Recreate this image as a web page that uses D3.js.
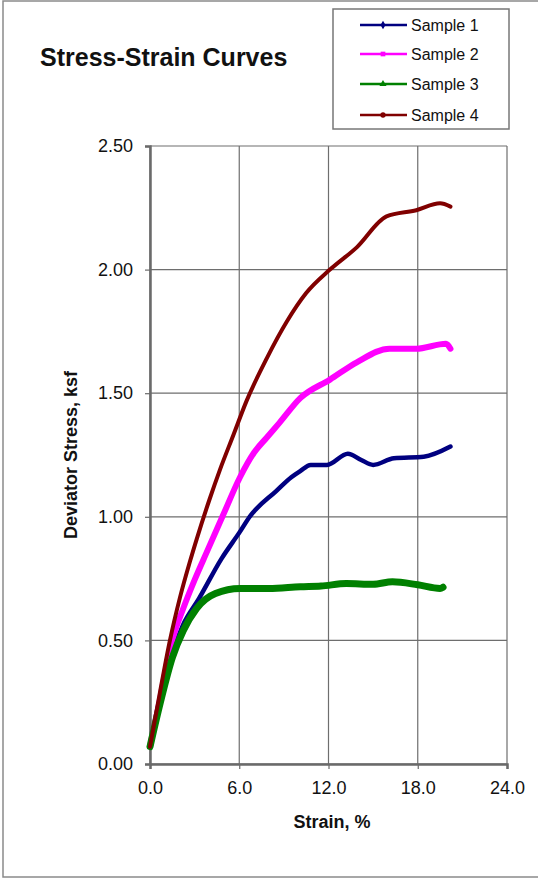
<!DOCTYPE html>
<html>
<head>
<meta charset="utf-8">
<script src="https://cdn.jsdelivr.net/npm/d3@7"></script>
<style>
  html, body { margin: 0; padding: 0; background: #fff; }
  svg { display: block; font-family: "Liberation Sans", Arial, sans-serif; }
</style>
</head>
<body>
<svg id="chart" width="538" height="882"></svg>
<script>
// values (strain %, deviator stress ksf)
const seriesNames = ["Sample 1", "Sample 2", "Sample 3", "Sample 4"];
const seriesColors = ["#000080", "#ff00ff", "#008000", "#800000"];

const strain1 = [0, 0.7, 1.5, 2.2, 3.3, 4.8, 6.05, 6.7, 8.5, 9.5, 10.1, 10.8, 11.9, 13.3, 14.2, 15.0, 16.4, 18.4, 20.2];
const stress1 = [0.07, 0.26, 0.45, 0.56, 0.67, 0.83, 0.94, 1.0, 1.105, 1.16, 1.185, 1.21, 1.21, 1.255, 1.23, 1.21, 1.237, 1.243, 1.284];

const strain2 = [0, 0.7, 1.4, 2.24, 3.0, 3.8, 4.9, 6.05, 7.0, 7.84, 8.7, 10.1, 12.1, 13.9, 16.1, 17.9, 19.9, 20.2];
const stress2 = [0.07, 0.27, 0.48, 0.63, 0.745, 0.855, 1.005, 1.16, 1.26, 1.32, 1.38, 1.48, 1.555, 1.625, 1.68, 1.68, 1.70, 1.68];

const strain3 = [0, 0.7, 1.5, 2.24, 3.14, 4.4, 6.05, 8.0, 10.1, 11.5, 13.2, 15.0, 16.3, 18.0, 19.5, 19.7];
const stress3 = [0.07, 0.25, 0.43, 0.54, 0.63, 0.69, 0.71, 0.71, 0.717, 0.72, 0.73, 0.727, 0.737, 0.725, 0.71, 0.715];

const strain4 = [0, 0.67, 1.34, 2.0, 2.69, 3.14, 4.0, 4.7, 5.6, 6.5, 7.84, 9.2, 10.5, 12.1, 13.9, 15.9, 17.9, 19.5, 20.2];
const stress4 = [0.07, 0.29, 0.50, 0.67, 0.82, 0.91, 1.07, 1.19, 1.33, 1.47, 1.64, 1.79, 1.905, 2.0, 2.09, 2.215, 2.24, 2.268, 2.255];

const xTicks = [0, 6, 12, 18, 24];
const yTicks = [0, 0.5, 1.0, 1.5, 2.0, 2.5];

const svg = d3.select("#chart");

// outer frame
svg.append("rect")
  .attr("x", 3).attr("y", 1).attr("width", 560).attr("height", 876)
  .attr("fill", "none").attr("stroke", "#8a8a8a").attr("stroke-width", 1.5);

const x = d3.scaleLinear().domain([0, 24]).range([150, 507]);
const y = d3.scaleLinear().domain([0, 2.5]).range([764, 146]);

// gridlines
const grid = svg.append("g");
grid.selectAll(".gx").data(xTicks).join("line")
  .attr("x1", d => x(d)).attr("x2", d => x(d))
  .attr("y1", y(2.5)).attr("y2", y(0))
  .attr("stroke", "#6e6e6e").attr("stroke-width", 1.2);
grid.selectAll(".gy").data(yTicks).join("line")
  .attr("x1", x(0)).attr("x2", x(24))
  .attr("y1", d => y(d)).attr("y2", d => y(d))
  .attr("stroke", "#6e6e6e").attr("stroke-width", 1.2);

// axes
const xAxis = svg.append("g").attr("transform", `translate(0,${y(0)})`)
  .call(d3.axisBottom(x).tickValues(xTicks).tickFormat(d3.format(".1f")).tickSizeOuter(0).tickSize(5).tickPadding(12));
const yAxis = svg.append("g").attr("transform", `translate(${x(0)},0)`)
  .call(d3.axisLeft(y).tickValues(yTicks).tickFormat(d3.format(".2f")).tickSizeOuter(0).tickSize(5).tickPadding(12));

[xAxis, yAxis].forEach(a => {
  a.select(".domain").attr("stroke", "#6a6a6a").attr("stroke-width", 2.5);
  a.selectAll(".tick line").attr("stroke", "#6a6a6a").attr("stroke-width", 1.2);
  a.selectAll(".tick text").attr("fill", "#111").style("font-size", "18px")
    .style("font-family", "'Liberation Sans', Arial, sans-serif");
});

// curves
const series = [
  { name: seriesNames[0], xs: strain1, ys: stress1, color: seriesColors[0], w: 4.5 },
  { name: seriesNames[1], xs: strain2, ys: stress2, color: seriesColors[1], w: 6 },
  { name: seriesNames[2], xs: strain3, ys: stress3, color: seriesColors[2], w: 7 },
  { name: seriesNames[3], xs: strain4, ys: stress4, color: seriesColors[3], w: 4 }
];

const line = d3.line()
  .x(d => x(d[0]))
  .y(d => y(d[1]))
  .curve(d3.curveMonotoneX);

svg.append("g").selectAll("path").data(series).join("path")
  .attr("d", s => line(s.xs.map((v, i) => [v, s.ys[i]])))
  .attr("fill", "none")
  .attr("stroke", s => s.color)
  .attr("stroke-width", s => s.w)
  .attr("stroke-linejoin", "round")
  .attr("stroke-linecap", "round");

// title and axis labels
svg.append("text").attr("x", 40).attr("y", 66)
  .style("font-size", "25px").style("font-weight", "bold").attr("fill", "#111")
  .text("Stress-Strain Curves");

svg.append("text").attr("x", 332).attr("y", 828).attr("text-anchor", "middle")
  .style("font-size", "18px").style("font-weight", "bold").attr("fill", "#111")
  .text("Strain, %");

svg.append("text")
  .attr("transform", `translate(77,${(y(0) + y(2.5)) / 2}) rotate(-90)`)
  .attr("text-anchor", "middle")
  .style("font-size", "18px").style("font-weight", "bold").attr("fill", "#111")
  .text("Deviator Stress, ksf");

// legend
const legend = svg.append("g");
legend.append("rect")
  .attr("x", 333).attr("y", 9).attr("width", 176).attr("height", 120)
  .attr("fill", "#fff").attr("stroke", "#777").attr("stroke-width", 1.5);

const legendRows = [25, 54, 84, 115];
const items = legend.selectAll(".item").data(series).join("g")
  .attr("transform", (d, i) => `translate(0,${legendRows[i]})`);
items.append("line")
  .attr("x1", 360).attr("x2", 407).attr("y1", 0).attr("y2", 0)
  .attr("stroke", d => d.color).attr("stroke-width", 2.5);
items.append("path")
  .attr("transform", "translate(383,0)")
  .attr("d", (d, i) => d3.symbol().type([d3.symbolDiamond, d3.symbolSquare, d3.symbolTriangle, d3.symbolCircle][i]).size(22)())
  .attr("fill", d => d.color);
items.append("text")
  .attr("x", 411).attr("y", 0).attr("dy", "0.35em")
  .style("font-size", "16px").attr("fill", "#111")
  .text(d => d.name);
</script>
</body>
</html>
